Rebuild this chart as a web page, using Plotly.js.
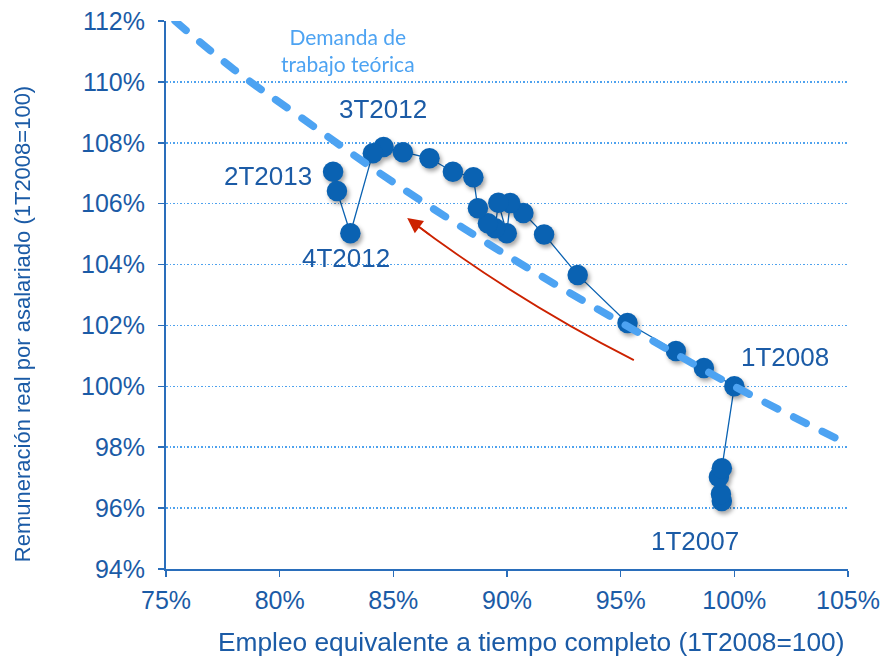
<!DOCTYPE html>
<html>
<head>
<meta charset="utf-8">
<script src="https://cdn.plot.ly/plotly-3.0.1.min.js"></script>
<style>
  html, body { margin: 0; padding: 0; background: #fff; }
  #chart { width: 881px; height: 659px; }
</style>
</head>
<body>
<div id="chart"></div>
<script>
// Quarters 1T2007 ... 2T2013
var trimestres = ['1T2007','2T2007','3T2007','4T2007',
  '1T2008','2T2008','3T2008','4T2008',
  '1T2009','2T2009','3T2009','4T2009',
  '1T2010','2T2010','3T2010','4T2010',
  '1T2011','2T2011','3T2011','4T2011',
  '1T2012','2T2012','3T2012','4T2012',
  '1T2013','2T2013'];
// Empleo equivalente a tiempo completo (1T2008=100), %
var empleo = [99.45, 99.41, 99.32, 99.45,
  100.0, 98.66, 97.43, 95.30,
  93.11, 91.63, 90.72, 90.14,
  89.99, 89.62, 89.48, 89.16,
  88.72, 88.52, 87.62, 86.59,
  85.42, 84.57, 84.10, 83.11,
  82.52, 82.35];
// Remuneración real por asalariado (1T2008=100), %
var remuneracion = [96.23, 96.46, 97.02, 97.31,
  100.0, 100.60, 101.16, 102.08,
  103.66, 104.99, 105.69, 106.02,
  105.03, 106.03, 105.19, 105.36,
  105.85, 106.87, 107.05, 107.49,
  107.69, 107.86, 107.66, 105.03,
  106.42, 107.05];
// Demanda de trabajo teórica
var demandaX = [75.4, 78, 81, 85, 90, 95, 100, 105];
var demandaY = [112.0, 110.4, 108.8, 106.7, 104.3, 102.1, 100.0, 98.1];
// Axis ticks
var yTicks = [94, 96, 98, 100, 102, 104, 106, 108, 110, 112];
var xTicks = [75, 80, 85, 90, 95, 100, 105];

var dark = '#1B5BA6';
var markerCol = '#0A62B2';
var light = '#4DA3F2';
var fam = 'Liberation Sans, Arial, sans-serif';

var traces = [
  {
    x: empleo, y: remuneracion, text: trimestres, mode: 'lines+markers', type: 'scatter',
    line: { color: markerCol, width: 1.3 },
    marker: { color: markerCol, size: 20.5 },
    showlegend: false
  },
  {
    x: demandaX, y: demandaY, mode: 'lines', type: 'scatter',
    line: { color: light, width: 7.5, dash: '14px,18px', shape: 'spline', smoothing: 1 },
    hoverinfo: 'skip', showlegend: false
  }
];

var annFont = { family: fam, size: 26, color: dark };
var layout = {
  width: 881, height: 659,
  margin: { l: 166, r: 33, t: 21, b: 90 },
  paper_bgcolor: '#ffffff', plot_bgcolor: '#ffffff',
  font: { family: fam, color: dark },
  xaxis: {
    range: [75, 105], tickvals: xTicks, ticktext: xTicks.map(function(v){return v + '%';}),
    showgrid: false, zeroline: false,
    showline: true, linecolor: '#2A6EBB', linewidth: 2,
    ticks: 'outside', ticklen: 6, tickwidth: 1.5, tickcolor: '#2A6EBB',
    ticklabelstandoff: 2,
    tickfont: { size: 25, color: dark }
  },
  yaxis: {
    range: [94, 112], tickvals: yTicks, ticktext: yTicks.map(function(v){return v + '%';}),
    showgrid: true, gridcolor: '#4EA2EE', gridwidth: 1.5, griddash: '1.5px,2px',
    zeroline: false,
    showline: true, linecolor: '#2A6EBB', linewidth: 2,
    ticks: 'outside', ticklen: 6, tickwidth: 1.5, tickcolor: '#2A6EBB',
    ticklabelstandoff: 8,
    tickfont: { size: 25, color: dark }
  },
  shapes: [
    { type: 'path', xref: 'x', yref: 'y', path: 'M 95.58,100.86 Q 90.32,102.86 85.75,105.45',
      line: { color: '#CC2200', width: 1.8 } }
  ],
  annotations: [
    { xref: 'paper', yref: 'paper', x: 0.535, y: -0.133, xanchor: 'center', yanchor: 'middle',
      text: 'Empleo equivalente a tiempo completo (1T2008=100)',
      showarrow: false, font: { family: fam, size: 26.3, color: dark } },
    { xref: 'paper', yref: 'paper', x: -0.211, y: 0.447, xanchor: 'center', yanchor: 'middle', textangle: -90,
      text: 'Remuneración real por asalariado (1T2008=100)',
      showarrow: false, font: { family: fam, size: 22, color: dark } },
    { x: 84.56, y: 109.1, text: '3T2012', showarrow: false, font: annFont },
    { x: 79.5, y: 106.9, text: '2T2013', showarrow: false, font: annFont },
    { x: 82.93, y: 104.22, text: '4T2012', showarrow: false, font: annFont },
    { x: 102.22, y: 100.96, text: '1T2008', showarrow: false, font: annFont },
    { x: 98.26, y: 94.91, text: '1T2007', showarrow: false, font: annFont },
    { x: 83.02, y: 111.06, text: 'Demanda de<br>trabajo teórica', showarrow: false,
      font: { family: 'Lato, Open Sans, sans-serif', size: 21, color: light } },
    { x: 85.61, y: 105.53, ax: 24, ay: 18,
      text: '', showarrow: true, arrowcolor: '#CC2200', arrowwidth: 1.8, arrowhead: 2, arrowsize: 1.7 }
  ]
};

Plotly.newPlot('chart', traces, layout, { displayModeBar: false, staticPlot: true }).then(function(gd){
  var traceEls = gd.querySelectorAll('.scatterlayer .trace');
  if (traceEls.length > 1) {
    traceEls[1].querySelectorAll('.js-line').forEach(function(p){ p.style.strokeLinecap = 'round'; });
    traceEls[0].querySelectorAll('.points').forEach(function(p){
      p.style.filter = 'drop-shadow(2px 3px 2px rgba(0,0,0,0.35))';
    });
  }
});
</script>
</body>
</html>
